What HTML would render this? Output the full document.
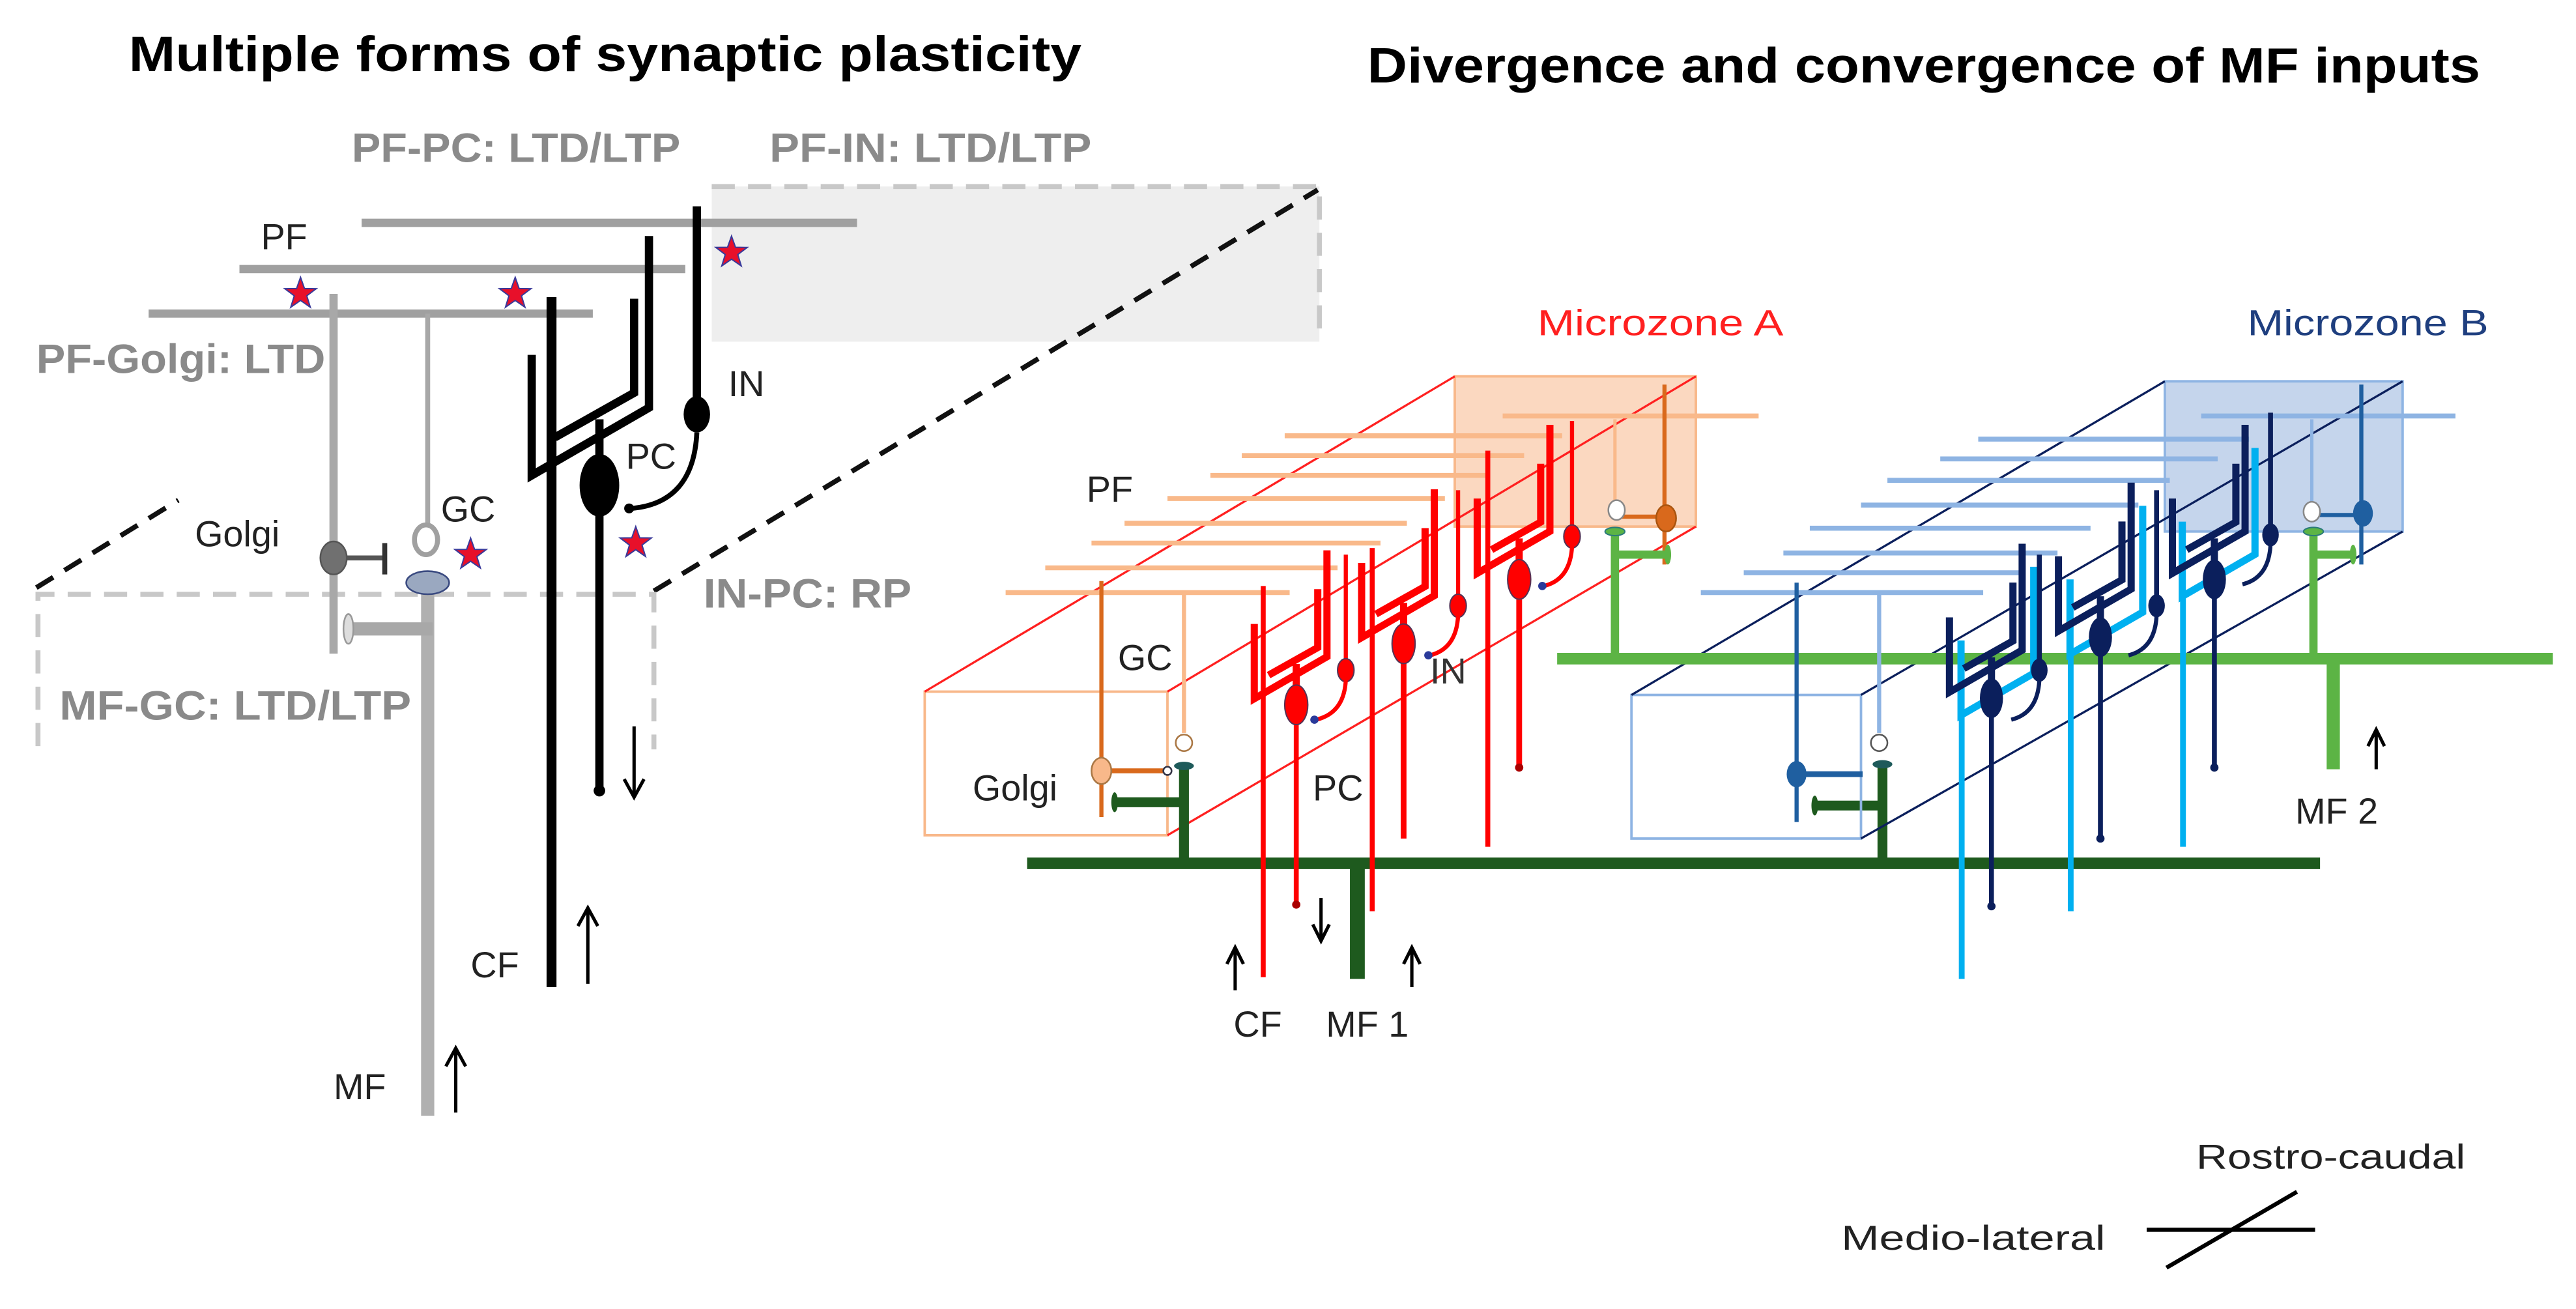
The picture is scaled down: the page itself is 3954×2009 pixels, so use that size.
<!DOCTYPE html>
<html><head><meta charset="utf-8"><style>
html,body{margin:0;padding:0;background:#fff;}
svg{display:block;}
text{font-family:"Liberation Sans",sans-serif;}
</style></head><body>
<svg width="3954" height="2009" viewBox="0 0 1560 793" preserveAspectRatio="none" xmlns="http://www.w3.org/2000/svg">
<defs>
<path id="pcd" d="M-41,-79 V-6 L30,-47 V-151 M-27,-29 L21,-56 V-113 M0,-18 V-40" fill="none" stroke-linejoin="miter"/>
<path id="pco" d="M-41,-79 V-6 L30,-47 V-151" fill="none"/>
<polygon id="star" points="0,-10 2.4,-3.2 9.5,-3.1 3.8,1.2 5.9,8.1 0,4 -5.9,8.1 -3.8,1.2 -9.5,-3.1 -2.4,-3.2" fill="#e8102a" stroke="#3a3a9a" stroke-width="0.8"/>
</defs>

<text x="78" y="43" font-size="30" font-weight="bold" textLength="577" lengthAdjust="spacingAndGlyphs">Multiple forms of synaptic plasticity</text>
<text x="828" y="50" font-size="30" font-weight="bold" textLength="674" lengthAdjust="spacingAndGlyphs">Divergence and convergence of MF inputs</text>

<rect x="431" y="113" width="368" height="94" fill="#eeeeee"/>
<path d="M431,113 H799 V207" fill="none" stroke="#c8c8c8" stroke-width="3" stroke-dasharray="14,8"/>
<line x1="396" y1="358" x2="798" y2="115" stroke="#111" stroke-width="3" stroke-dasharray="12,8"/>
<line x1="22" y1="356" x2="108" y2="303" stroke="#111" stroke-width="3" stroke-dasharray="12,8"/>
<path d="M23,452 V360 H396 V454" fill="none" stroke="#c8c8c8" stroke-width="3" stroke-dasharray="14,8"/>

<text x="213" y="98" font-size="25" font-weight="bold" fill="#8a8a8a" textLength="199" lengthAdjust="spacingAndGlyphs">PF-PC: LTD/LTP</text>
<text x="466" y="98" font-size="25" font-weight="bold" fill="#8a8a8a" textLength="195" lengthAdjust="spacingAndGlyphs">PF-IN: LTD/LTP</text>
<text x="22" y="226" font-size="25" font-weight="bold" fill="#8a8a8a" textLength="175" lengthAdjust="spacingAndGlyphs">PF-Golgi: LTD</text>
<text x="426" y="368" font-size="25" font-weight="bold" fill="#8a8a8a" textLength="126" lengthAdjust="spacingAndGlyphs">IN-PC: RP</text>
<text x="36" y="436" font-size="25" font-weight="bold" fill="#8a8a8a" textLength="213" lengthAdjust="spacingAndGlyphs">MF-GC: LTD/LTP</text>

<g stroke="#a0a0a0" stroke-width="5">
<line x1="219" y1="135" x2="519" y2="135"/>
<line x1="145" y1="163" x2="415" y2="163"/>
<line x1="90" y1="190" x2="359" y2="190"/>
</g>
<line x1="202" y1="178" x2="202" y2="396" stroke="#a8a8a8" stroke-width="5"/>
<line x1="259" y1="190" x2="259" y2="318" stroke="#a8a8a8" stroke-width="3"/>
<ellipse cx="258" cy="327" rx="7" ry="9" fill="#fff" stroke="#a0a0a0" stroke-width="3"/>
<line x1="202" y1="338" x2="232" y2="338" stroke="#555" stroke-width="3"/>
<line x1="233" y1="329" x2="233" y2="348" stroke="#333" stroke-width="3"/>
<ellipse cx="202" cy="338" rx="8" ry="10" fill="#707070" stroke="#555" stroke-width="1"/>
<line x1="259" y1="358" x2="259" y2="676" stroke="#b0b0b0" stroke-width="8"/>
<line x1="212" y1="381" x2="262" y2="381" stroke="#a8a8a8" stroke-width="8"/>
<ellipse cx="211" cy="381" rx="3" ry="9" fill="#ddd" stroke="#999"/>
<ellipse cx="259" cy="353" rx="13" ry="7" fill="#9aa8c0" stroke="#3a4a80" stroke-width="1"/>

<line x1="334" y1="180" x2="334" y2="598" stroke="#000" stroke-width="6"/>
<use href="#pcd" transform="translate(363,294)" stroke="#000" stroke-width="5"/>
<line x1="363" y1="294" x2="363" y2="478" stroke="#000" stroke-width="5"/>
<circle cx="363" cy="479" r="3.5" fill="#000"/>
<ellipse cx="363" cy="294" rx="12" ry="19" fill="#000"/>
<line x1="422" y1="125" x2="422" y2="248" stroke="#000" stroke-width="5"/>
<ellipse cx="422" cy="251" rx="8" ry="11" fill="#000"/>
<path d="M422,262 Q420,305 382,308" fill="none" stroke="#000" stroke-width="3"/>
<circle cx="381" cy="308" r="3" fill="#000"/>

<use href="#star" transform="translate(182,178)"/>
<use href="#star" transform="translate(312,178)"/>
<use href="#star" transform="translate(443,153)"/>
<use href="#star" transform="translate(285,336)"/>
<use href="#star" transform="translate(385,329)"/>

<g stroke="#000" stroke-width="2" fill="none">
<path d="M384,440 V482 M378,472 L384,483 L390,472"/>
<path d="M356,596 V551 M350,561 L356,550 L362,561"/>
<path d="M276,674 V636 M270,646 L276,635 L282,646"/>
</g>

<g font-size="22" fill="#222">
<text x="158" y="151">PF</text>
<text x="441" y="240">IN</text>
<text x="379" y="284">PC</text>
<text x="267" y="316">GC</text>
<text x="118" y="331">Golgi</text>
<text x="285" y="592">CF</text>
<text x="202" y="666">MF</text>
</g>

<rect x="881" y="228" width="146" height="91" fill="#fbd8c0" stroke="#f8b88a" stroke-width="1.5"/>
<rect x="560" y="419" width="147" height="87" fill="none" stroke="#f8b88a" stroke-width="1.5"/>
<g stroke="#ff2020" stroke-width="1.3">
<line x1="560" y1="419" x2="881" y2="228"/>
<line x1="707" y1="419" x2="1027" y2="228"/>
<line x1="707" y1="506" x2="1027" y2="319"/>
</g>
<g stroke="#f9b98a" stroke-width="3">
<line x1="910" y1="252" x2="1065" y2="252"/>
<line x1="778" y1="264" x2="946" y2="264"/>
<line x1="752" y1="276" x2="923" y2="276"/>
<line x1="733" y1="288" x2="901" y2="288"/>
<line x1="707" y1="302" x2="875" y2="302"/>
<line x1="681" y1="317" x2="852" y2="317"/>
<line x1="661" y1="329" x2="836" y2="329"/>
<line x1="633" y1="344" x2="810" y2="344"/>
<line x1="609" y1="359" x2="781" y2="359"/>
</g>
<line x1="667" y1="352" x2="667" y2="495" stroke="#d9691c" stroke-width="2.5"/>
<line x1="717" y1="359" x2="717" y2="444" stroke="#f9b98a" stroke-width="2.5"/>
<circle cx="717" cy="450" r="5" fill="#fff" stroke="#aa7744" stroke-width="1"/>
<line x1="667" y1="467" x2="705" y2="467" stroke="#d9691c" stroke-width="3"/>
<circle cx="707" cy="467" r="2.5" fill="#fff" stroke="#334" stroke-width="1"/>
<ellipse cx="667" cy="467" rx="6" ry="8" fill="#f8b88a" stroke="#aa7744" stroke-width="1"/>
<line x1="1008" y1="233" x2="1008" y2="342" stroke="#d9691c" stroke-width="2.5"/>
<line x1="978" y1="254" x2="978" y2="305" stroke="#f9b98a" stroke-width="2"/>
<line x1="982" y1="313" x2="1006" y2="313" stroke="#d9691c" stroke-width="2.5"/>
<ellipse cx="979" cy="309" rx="5" ry="6" fill="#fff" stroke="#888"/>
<ellipse cx="1009" cy="314" rx="6" ry="8" fill="#d9691c" stroke="#aa5510"/>

<g stroke="#1e5a1e" fill="none">
<line x1="622" y1="523" x2="1405" y2="523" stroke-width="7"/>
<line x1="717" y1="465" x2="717" y2="523" stroke-width="6"/>
<line x1="676" y1="486" x2="717" y2="486" stroke-width="6"/>
<line x1="1140" y1="464" x2="1140" y2="523" stroke-width="6"/>
<line x1="1100" y1="488" x2="1140" y2="488" stroke-width="6"/>
<line x1="822" y1="523" x2="822" y2="593" stroke-width="9"/>
</g>
<ellipse cx="717" cy="464" rx="6" ry="2.5" fill="#1e5a5a"/>
<ellipse cx="675" cy="486" rx="2" ry="6" fill="#1e5a1e"/>
<ellipse cx="1140" cy="463" rx="6" ry="2.5" fill="#1e5a5a"/>
<ellipse cx="1099" cy="488" rx="2" ry="6" fill="#1e5a1e"/>

<g stroke="#ff0000">
<line x1="765" y1="355" x2="765" y2="592" stroke-width="3"/>
<line x1="831" y1="332" x2="831" y2="552" stroke-width="3"/>
<line x1="901" y1="273" x2="901" y2="513" stroke-width="3"/>
<line x1="785" y1="427" x2="785" y2="547" stroke-width="3"/>
<line x1="850" y1="390" x2="850" y2="508" stroke-width="3.5"/>
<line x1="920" y1="351" x2="920" y2="465" stroke-width="3.5"/>
<line x1="815" y1="336" x2="815" y2="400" stroke-width="2.5"/>
<line x1="883" y1="297" x2="883" y2="362" stroke-width="2.5"/>
<line x1="952" y1="255" x2="952" y2="320" stroke-width="2.5"/>
</g>
<use href="#pcd" transform="translate(785,427) scale(0.62)" stroke="#ff0000" stroke-width="7"/>
<use href="#pcd" transform="translate(850,390) scale(0.62)" stroke="#ff0000" stroke-width="7"/>
<use href="#pcd" transform="translate(920,351) scale(0.62)" stroke="#ff0000" stroke-width="7"/>
<g fill="#ff0000" stroke="#553355" stroke-width="0.8">
<ellipse cx="785" cy="427" rx="7" ry="12"/>
<ellipse cx="850" cy="390" rx="7" ry="12"/>
<ellipse cx="920" cy="351" rx="7" ry="12"/>
<ellipse cx="815" cy="406" rx="5" ry="7"/>
<ellipse cx="883" cy="367" rx="5" ry="7"/>
<ellipse cx="952" cy="325" rx="5" ry="7"/>
</g>
<g fill="none" stroke="#ff0000" stroke-width="2.5">
<path d="M815,412 Q814,432 797,436"/>
<path d="M883,373 Q882,393 866,397"/>
<path d="M952,331 Q951,351 935,355"/>
</g>
<g fill="#2a3a9a"><circle cx="796" cy="436" r="2.5"/><circle cx="865" cy="397" r="2.5"/><circle cx="934" cy="355" r="2.5"/></g>
<circle cx="785" cy="548" r="2.5" fill="#a00"/><circle cx="920" cy="465" r="2.5" fill="#a00"/>

<rect x="1311" y="231" width="144" height="91" fill="#c5d5ec" stroke="#8eb4e3" stroke-width="1.5"/>
<rect x="988" y="421" width="139" height="87" fill="none" stroke="#8eb4e3" stroke-width="1.5"/>
<g stroke="#0b1f5c" stroke-width="1.3">
<line x1="988" y1="421" x2="1311" y2="231"/>
<line x1="1127" y1="421" x2="1455" y2="231"/>
<line x1="1127" y1="508" x2="1455" y2="322"/>
</g>

<g stroke="#5cb445" fill="none">
<line x1="943" y1="399" x2="1546" y2="399" stroke-width="7"/>
<line x1="978" y1="322" x2="978" y2="399" stroke-width="5"/>
<line x1="978" y1="336" x2="1009" y2="336" stroke-width="5"/>
<line x1="1401" y1="322" x2="1401" y2="399" stroke-width="5"/>
<line x1="1401" y1="336" x2="1424" y2="336" stroke-width="5"/>
<line x1="1413" y1="399" x2="1413" y2="466" stroke-width="8"/>
</g>
<ellipse cx="978" cy="322" rx="6" ry="2.5" fill="#5cb445" stroke="#2a7a7a" stroke-width="0.8"/>
<ellipse cx="1010" cy="336" rx="2" ry="6" fill="#5cb445"/>
<ellipse cx="1401" cy="322" rx="6" ry="2.5" fill="#5cb445" stroke="#2a7a7a" stroke-width="0.8"/>
<ellipse cx="1425" cy="336" rx="2" ry="6" fill="#5cb445"/>

<g stroke="#8eb4e3" stroke-width="3">
<line x1="1333" y1="252" x2="1487" y2="252"/>
<line x1="1198" y1="266" x2="1362" y2="266"/>
<line x1="1175" y1="278" x2="1343" y2="278"/>
<line x1="1143" y1="291" x2="1314" y2="291"/>
<line x1="1127" y1="306" x2="1295" y2="306"/>
<line x1="1096" y1="320" x2="1266" y2="320"/>
<line x1="1080" y1="335" x2="1246" y2="335"/>
<line x1="1056" y1="347" x2="1224" y2="347"/>
<line x1="1030" y1="359" x2="1201" y2="359"/>
</g>
<line x1="1088" y1="353" x2="1088" y2="498" stroke="#1f5fa0" stroke-width="2.5"/>
<line x1="1138" y1="359" x2="1138" y2="444" stroke="#8eb4e3" stroke-width="2.5"/>
<circle cx="1138" cy="450" r="5" fill="#fff" stroke="#555"/>
<line x1="1088" y1="469" x2="1128" y2="469" stroke="#1f5fa0" stroke-width="3.5"/>
<ellipse cx="1088" cy="469" rx="6" ry="8" fill="#1f5fa0"/>
<line x1="1430" y1="233" x2="1430" y2="342" stroke="#1f5fa0" stroke-width="2.5"/>
<line x1="1400" y1="254" x2="1400" y2="305" stroke="#8eb4e3" stroke-width="2"/>
<line x1="1404" y1="312" x2="1428" y2="312" stroke="#1f5fa0" stroke-width="2.5"/>
<ellipse cx="1400" cy="310" rx="5" ry="6" fill="#fff" stroke="#888"/>
<ellipse cx="1431" cy="311" rx="6" ry="8" fill="#1f5fa0"/>

<g stroke="#00b0f0" stroke-width="3.5" fill="none">
<line x1="1188" y1="433" x2="1188" y2="593"/>
<line x1="1254" y1="396" x2="1254" y2="552"/>
<line x1="1322" y1="361" x2="1322" y2="513"/>
</g>
<use href="#pco" transform="translate(1213,437) scale(0.62)" stroke="#00b0f0" stroke-width="7"/>
<use href="#pco" transform="translate(1279,400) scale(0.62)" stroke="#00b0f0" stroke-width="7"/>
<use href="#pco" transform="translate(1347,365) scale(0.62)" stroke="#00b0f0" stroke-width="7"/>
<use href="#pcd" transform="translate(1206,423) scale(0.62)" stroke="#0b1f5c" stroke-width="7"/>
<use href="#pcd" transform="translate(1272,386) scale(0.62)" stroke="#0b1f5c" stroke-width="7"/>
<use href="#pcd" transform="translate(1341,351) scale(0.62)" stroke="#0b1f5c" stroke-width="7"/>
<g stroke="#0b1f5c" stroke-width="3">
<line x1="1206" y1="423" x2="1206" y2="549"/>
<line x1="1272" y1="386" x2="1272" y2="508"/>
<line x1="1341" y1="351" x2="1341" y2="465"/>
<line x1="1235" y1="336" x2="1235" y2="400"/>
<line x1="1306" y1="297" x2="1306" y2="362"/>
<line x1="1375" y1="250" x2="1375" y2="320"/>
</g>
<g fill="#0b1f5c">
<ellipse cx="1206" cy="423" rx="7" ry="12"/>
<ellipse cx="1272" cy="386" rx="7" ry="12"/>
<ellipse cx="1341" cy="351" rx="7" ry="12"/>
<ellipse cx="1235" cy="406" rx="5" ry="7"/>
<ellipse cx="1306" cy="367" rx="5" ry="7"/>
<ellipse cx="1375" cy="324" rx="5" ry="7"/>
<circle cx="1206" cy="549" r="2.5"/><circle cx="1272" cy="508" r="2.5"/><circle cx="1341" cy="465" r="2.5"/>
</g>
<g fill="none" stroke="#0b1f5c" stroke-width="2.5">
<path d="M1235,412 Q1234,432 1218,436"/>
<path d="M1306,373 Q1305,393 1289,397"/>
<path d="M1375,330 Q1374,350 1358,354"/>
</g>

<g stroke="#000" stroke-width="2" fill="none">
<path d="M748,600 V575 M743,584 L748,574 L753,584"/>
<path d="M800,544 V569 M795,560 L800,570 L805,560"/>
<path d="M855,598 V575 M850,584 L855,574 L860,584"/>
<path d="M1439,466 V443 M1434,452 L1439,442 L1444,452"/>
</g>

<g font-size="22" fill="#222">
<text x="658" y="304">PF</text>
<text x="677" y="406">GC</text>
<text x="866" y="414" fill="#333">IN</text>
<text x="589" y="485">Golgi</text>
<text x="795" y="485">PC</text>
<text x="747" y="628">CF</text>
<text x="803" y="628">MF 1</text>
<text x="1390" y="499">MF 2</text>
</g>
<text x="931" y="203" font-size="22" fill="#ff2020" textLength="149" lengthAdjust="spacingAndGlyphs">Microzone A</text>
<text x="1361" y="203" font-size="22" fill="#1f3f7f" textLength="146" lengthAdjust="spacingAndGlyphs">Microzone B</text>

<text x="1330" y="708" font-size="21" fill="#222" textLength="163" lengthAdjust="spacingAndGlyphs">Rostro-caudal</text>
<text x="1115" y="757" font-size="21" fill="#222" textLength="160" lengthAdjust="spacingAndGlyphs">Medio-lateral</text>
<line x1="1300" y1="745" x2="1402" y2="745" stroke="#000" stroke-width="2.5"/>
<line x1="1312" y1="768" x2="1391" y2="722" stroke="#000" stroke-width="2.5"/>
</svg>
</body></html>
